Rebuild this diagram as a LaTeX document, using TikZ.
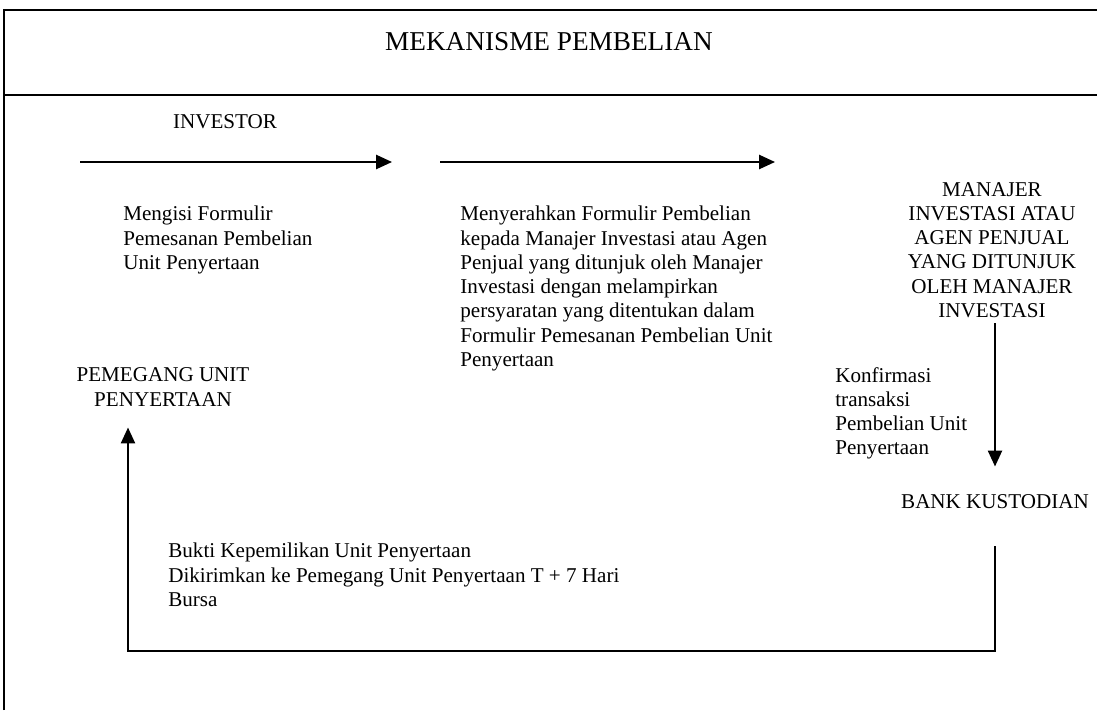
\documentclass[tikz,border=0pt]{standalone}
\usepackage{fontspec}
\setmainfont{Liberation Serif}
\usetikzlibrary{arrows.meta, positioning}
\tikzset{
    frame/.style = {
      line width = 1.5pt,
    },
    party/.style = {
      inner sep = 0pt,
      align = center,
      font = \fontsize{12pt}{13.8pt}\selectfont,
    },
    note/.style = {
      inner sep = 0pt,
      anchor = north west,
      align = left,
      font = \fontsize{12pt}{13.8pt}\selectfont,
    },
    -->/.style = {
      line width = 1.1pt,
      -{Triangle[length=9pt,width=8pt]}
    },
}
\begin{document}
\begin{tikzpicture}[x=0.02cm, y=-0.02cm]
            \useasboundingbox (0,0) rectangle (1097,710);

            % frame
            \draw[frame] (4,710) -- (4,10) -- (1097,10);
            \draw[frame] (4,95) -- (1097,95);
            \node[party, font=\fontsize{15.5pt}{18pt}\selectfont] (TITLE) at (549,42) {MEKANISME PEMBELIAN};

            \node[party] (INV) at (225,122) {INVESTOR};
            \node[party] (MI) at (992,250) {MANAJER\\INVESTASI ATAU\\AGEN PENJUAL\\YANG DITUNJUK\\OLEH MANAJER\\INVESTASI};
            \node[party] (BK) at (995,502) {BANK KUSTODIAN};
            \node[party] (PU) at (163,387) {PEMEGANG UNIT\\PENYERTAAN};

            \node[note] (FILL) at (123,206) {Mengisi Formulir\\Pemesanan Pembelian\\Unit Penyertaan};
            \node[note] (HAND) at (460,206) {Menyerahkan Formulir Pembelian\\kepada Manajer Investasi atau Agen\\Penjual yang ditunjuk oleh Manajer\\Investasi dengan melampirkan\\persyaratan yang ditentukan dalam\\Formulir Pemesanan Pembelian Unit\\Penyertaan};
            \node[note] (CONF) at (835,367) {Konfirmasi\\transaksi\\Pembelian Unit\\Penyertaan};
            \node[note] (PROOF) at (168,543) {Bukti Kepemilikan Unit Penyertaan\\Dikirimkan ke Pemegang Unit Penyertaan T + 7 Hari\\Bursa};

            \coordinate (A1) at (80,162);
            \coordinate (B1) at (392,162);
            \coordinate (A2) at (440,162);
            \coordinate (B2) at (775,162);
            \coordinate (RET) at (128,651);

            \draw[-->] (A1) -- (B1);
            \draw[-->] (A2) -- (B2);
            \draw[-->, shorten <=3pt, shorten >=16pt] (MI.south -| BK.south) -- (BK.north);
            \draw[-->, shorten <=21pt, shorten >=12pt] (BK.south) |- (RET) -- (RET |- PU.south);
\end{tikzpicture}
\end{document}
